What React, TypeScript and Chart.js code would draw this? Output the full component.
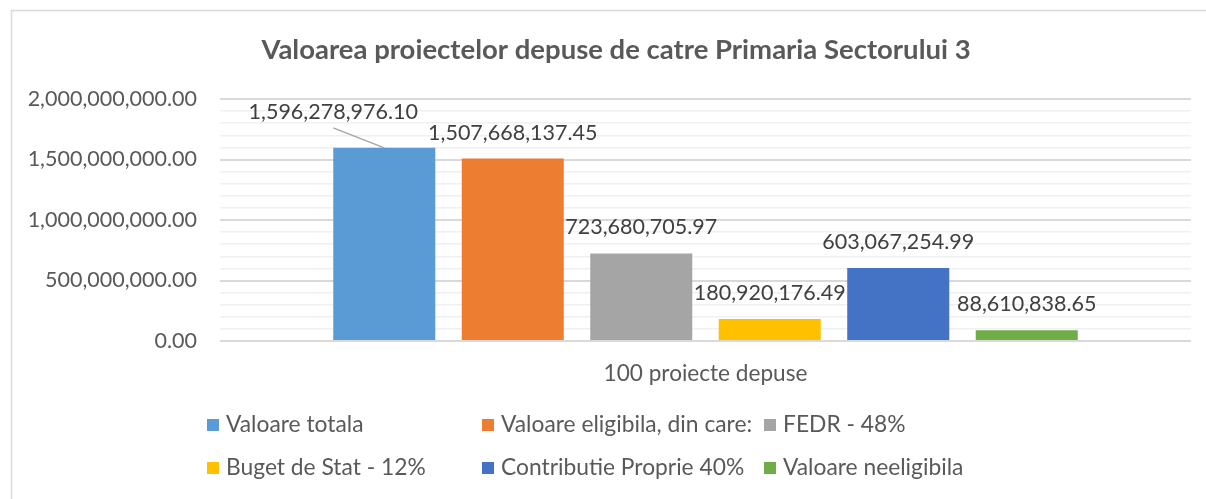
import React, { useEffect, useRef } from 'react';
import { Chart, registerables } from 'chart.js';

Chart.register(...registerables);

const categories = ['100 proiecte depuse'];
const seriesLabels = [
  'Valoare totala',
  'Valoare eligibila, din care:',
  'FEDR - 48%',
  'Buget de Stat - 12%',
  'Contributie Proprie 40%',
  'Valoare neeligibila',
];
const seriesValues = [1596278976.1, 1507668137.45, 723680705.97, 180920176.49, 603067254.99, 88610838.65];
const seriesColors = ['#5B9BD5', '#ED7D31', '#A5A5A5', '#FFC000', '#4472C4', '#70AD47'];
const yMin = 0;
const yMax = 2000000000;
const yMajorStep = 500000000;
const yMinorStep = 100000000;
const chartTitle = 'Valoarea proiectelor depuse de catre Primaria Sectorului 3';

const FONT = 'Lato, "Open Sans", sans-serif';
const fmt = new Intl.NumberFormat('en-US', { minimumFractionDigits: 2, maximumFractionDigits: 2 });

const framePlugin = {
  id: 'frame',
  beforeDraw(chart: any) {
    const ctx = chart.ctx;
    ctx.save();
    ctx.fillStyle = '#ffffff';
    ctx.fillRect(0, 0, chart.width, chart.height);
    ctx.strokeStyle = '#d9d9d9';
    ctx.lineWidth = 1.5;
    ctx.beginPath();
    ctx.moveTo(11.5, chart.height);
    ctx.lineTo(11.5, 10.5);
    ctx.lineTo(chart.width, 10.5);
    ctx.stroke();
    // title
    ctx.fillStyle = '#595959';
    ctx.font = `bold 27.5px ${FONT}`;
    ctx.textAlign = 'center';
    ctx.textBaseline = 'middle';
    ctx.fillText(chartTitle, 616, 50);
    ctx.restore();
  },
};

const labelPlugin = {
  id: 'valueLabels',
  afterDatasetsDraw(chart: any) {
    const ctx = chart.ctx;
    ctx.save();
    ctx.font = `21.5px ${FONT}`;
    ctx.fillStyle = '#404040';
    ctx.textAlign = 'center';
    ctx.textBaseline = 'middle';
    chart.data.datasets.forEach((ds: any, i: number) => {
      const meta = chart.getDatasetMeta(i);
      meta.data.forEach((bar: any, j: number) => {
        const text = fmt.format(ds.data[j]);
        if (i === 0) {
          const lx = bar.x - 51;
          const ly = bar.y - 36;
          ctx.strokeStyle = '#a6a6a6';
          ctx.lineWidth = 1.5;
          ctx.beginPath();
          ctx.moveTo(lx, ly + 16);
          ctx.lineTo(bar.x, bar.y);
          ctx.stroke();
          ctx.fillText(text, lx, ly);
        } else {
          ctx.fillText(text, bar.x, bar.y - 26);
        }
      });
    });
    ctx.restore();
  },
};

const legendPlugin = {
  id: 'customLegend',
  afterDraw(chart: any) {
    const ctx = chart.ctx;
    const cols = [207, 482, 764];
    const rows = [425, 468];
    ctx.save();
    ctx.font = `22.8px ${FONT}`;
    ctx.textAlign = 'left';
    ctx.textBaseline = 'middle';
    chart.data.datasets.forEach((ds: any, i: number) => {
      const x = cols[i % 3];
      const y = rows[Math.floor(i / 3)];
      ctx.fillStyle = ds.backgroundColor;
      ctx.fillRect(x, y - 6, 12, 12);
      ctx.fillStyle = '#595959';
      ctx.fillText(ds.label, x + 19, y);
    });
    ctx.restore();
  },
};

export default function App() {
  const ref = useRef<HTMLCanvasElement>(null);
  useEffect(() => {
    document.body.style.margin = '0';
    const chart = new Chart(ref.current as HTMLCanvasElement, {
      type: 'bar',
      data: {
        labels: categories,
        datasets: seriesLabels.map((label, i) => ({
          label,
          data: [seriesValues[i]],
          backgroundColor: seriesColors[i],
          borderWidth: 0,
          categoryPercentage: 0.794,
          barPercentage: 0.794,
        })),
      },
      options: {
        animation: false,
        responsive: false,
        layout: { padding: { top: 99, right: 15, bottom: 108, left: 0 } },
        plugins: { legend: { display: false }, title: { display: false }, tooltip: { enabled: false } },
        scales: {
          x: {
            grid: { display: false, drawTicks: false },
            border: { display: false },
            ticks: { color: '#595959', font: { family: FONT, size: 22.6 }, padding: 19 },
            afterFit(scale: any) {
              scale.height = 50;
            },
          },
          y: {
            min: yMin,
            max: yMax,
            border: { display: false },
            grid: {
              drawTicks: false,
              color: (c: any) => (c.tick && c.tick.value % yMajorStep === 0 ? '#d9d9d9' : '#f0f0f0'),
              lineWidth: (c: any) => (c.tick && c.tick.value % yMajorStep === 0 ? 2 : 1.5),
            },
            ticks: {
              stepSize: yMinorStep,
              autoSkip: false,
              color: '#595959',
              font: { family: FONT, size: 21.5 },
              padding: 23,
              callback: (v: any) => (Number(v) % yMajorStep === 0 ? fmt.format(Number(v)) : ''),
            },
            afterFit(scale: any) {
              scale.width = 220;
            },
          },
        },
      },
      plugins: [framePlugin, labelPlugin, legendPlugin],
    } as any);
    return () => chart.destroy();
  }, []);
  return (
    <div style={{ width: 1206, height: 499 }}>
      <canvas ref={ref} width={1206} height={499} style={{ display: 'block' }} />
    </div>
  );
}
